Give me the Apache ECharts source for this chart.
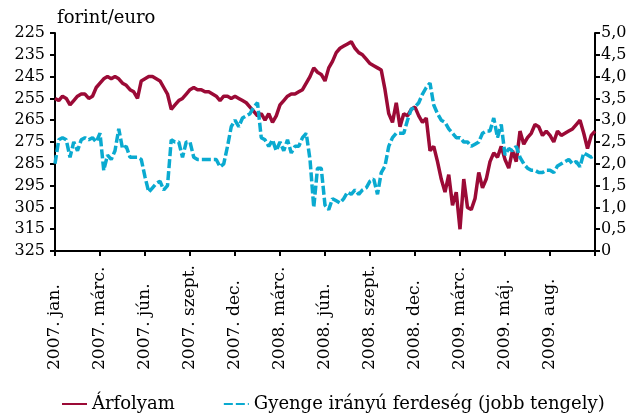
<!DOCTYPE html>
<html>
<head>
<meta charset="utf-8">
<script src="https://cdn.jsdelivr.net/npm/echarts@6/dist/echarts.min.js"></script>
<style>
  html, body { margin: 0; background: #fff; }
  #chart { width: 641px; height: 416px; }
</style>
</head>
<body>
<div id="chart"></div>
<script>
// Tick labels, one every 12 points (category axis, evenly spaced)
const tickLabels = ['2007. jan.', '2007. márc.', '2007. jún.', '2007. szept.', '2007. dec.',
    '2008. márc.', '2008. jún.', '2008. szept.', '2008. dec.',
    '2009. márc.', '2009. máj.', '2009. aug.'];

// forint/euro (left axis, inverted)
const arfolyam = [
    255, 256, 254, 255, 258, 256, 254, 253, 253, 255, 254, 250,
    248, 246, 245, 246, 245, 246, 248, 249, 251, 252, 255, 247,
    246, 245, 245, 246, 247, 250, 253, 260, 258, 256, 255, 253,
    251, 250, 251, 251, 252, 252, 253, 254, 256, 254, 254, 255,
    254, 255, 256, 257, 259, 261, 263, 262, 265, 262, 266, 263,
    258, 256, 254, 253, 253, 252, 251, 248, 245, 241, 243, 244,
    247, 241, 238, 234, 232, 231, 230, 229, 232, 234, 235, 237,
    239, 240, 241, 242, 251, 262, 266, 257, 268, 262, 263, 260,
    259, 263, 266, 264, 279, 277, 284, 292, 298, 290, 304, 298,
    315, 292, 305, 306, 301, 289, 296, 292, 284, 280, 282, 277,
    283, 287, 279, 284, 270, 276, 273, 271, 267, 268, 272, 270,
    272, 275, 270, 272, 271, 270, 269, 267, 265, 271, 278, 272,
    270
];

// weak-side skew (right axis)
const ferdeseg = [
    2.0, 2.55, 2.6, 2.55, 2.15, 2.5, 2.3, 2.55, 2.6, 2.55, 2.6, 2.5,
    2.7, 1.85, 2.2, 2.1, 2.3, 2.8, 2.35, 2.4, 2.15, 2.15, 2.15, 2.1,
    1.7, 1.35, 1.45, 1.55, 1.6, 1.4, 1.5, 2.55, 2.5, 2.5, 2.15, 2.5,
    2.5, 2.15, 2.1, 2.1, 2.1, 2.1, 2.1, 2.1, 1.93, 2.0, 2.4, 2.85,
    3.0, 2.85, 3.05, 3.1, 3.15, 3.3, 3.4, 2.6, 2.55, 2.4, 2.55, 2.3,
    2.5, 2.3, 2.55, 2.25, 2.4, 2.4, 2.6, 2.7, 2.1, 1.0, 1.9, 1.9,
    1.05, 0.95, 1.2, 1.15, 1.1, 1.2, 1.35, 1.3, 1.4, 1.3, 1.4, 1.45,
    1.6, 1.65, 1.3, 1.8, 1.95, 2.4, 2.6, 2.7, 2.7, 2.7, 3.0, 3.25,
    3.3, 3.4, 3.6, 3.75, 3.85, 3.35, 3.15, 3.0, 2.95, 2.8, 2.7, 2.6,
    2.6, 2.5, 2.5, 2.4, 2.45, 2.5, 2.7, 2.75, 2.75, 3.05, 2.6, 2.9,
    2.2, 2.35, 2.3, 2.4, 2.15, 2.0, 1.9, 1.85, 1.85, 1.8, 1.8, 1.85,
    1.85, 1.8, 1.95, 2.0, 2.05, 2.1, 2.0, 2.05, 1.93, 2.25, 2.2, 2.15,
    2.2
];

const perTick = 12;
const categories = arfolyam.map((_, i) => String(i));

const RED = '#9b0a36';
const CYAN = '#0aaad0';
const FONT = 'DejaVu Serif';
const axisLine = { show: true, lineStyle: { color: '#000', width: 2 } };

const chart = echarts.init(document.getElementById('chart'));
chart.setOption({
    animation: false,
    grid: { left: 55, right: 46, top: 33, bottom: 165 },
    graphic: [{
        type: 'text', left: 57, top: 9,
        style: { text: 'forint/euro', font: '18px "DejaVu Serif"', fill: '#000' }
    }],
    legend: {
        left: 56, top: 390,
        itemWidth: 25, itemHeight: 14, itemGap: 48,
        itemStyle: { opacity: 0 },
        textStyle: { fontFamily: FONT, fontSize: 18, color: '#000' },
        data: ['Árfolyam', 'Gyenge irányú ferdeség (jobb tengely)']
    },
    xAxis: {
        type: 'category',
        data: categories,
        boundaryGap: false,
        axisLine: axisLine,
        axisTick: {
            length: 5, interval: i => i % perTick === 0,
            lineStyle: { color: '#000', width: 2 }
        },
        axisLabel: {
            interval: i => i % perTick === 0,
            rotate: 90,
            align: 'left',
            margin: 119,
            fontFamily: FONT, fontSize: 17, color: '#000',
            formatter: (v) => tickLabels[Number(v) / perTick] || ''
        },
        splitLine: { show: false }
    },
    yAxis: [{
        type: 'value',
        inverse: true,
        min: 225, max: 325, interval: 10,
        axisLine: axisLine,
        axisTick: { show: true, length: 5, lineStyle: { color: '#000', width: 2 } },
        axisLabel: { margin: 10, fontFamily: FONT, fontSize: 16, color: '#000' },
        splitLine: { show: false }
    }, {
        type: 'value',
        min: 0, max: 5, interval: 0.5,
        axisLine: axisLine,
        axisTick: { show: true, length: 5, lineStyle: { color: '#000', width: 2 } },
        axisLabel: {
            margin: 6, fontFamily: FONT, fontSize: 16, color: '#000',
            formatter: v => v === 0 ? '0' : v.toFixed(1).replace('.', ',')
        },
        splitLine: { show: false }
    }],
    series: [{
        name: 'Árfolyam',
        type: 'line',
        yAxisIndex: 0,
        data: arfolyam,
        symbol: 'none',
        lineStyle: { color: RED, width: 3.5 },
        itemStyle: { color: RED }
    }, {
        name: 'Gyenge irányú ferdeség (jobb tengely)',
        type: 'line',
        yAxisIndex: 1,
        data: ferdeseg,
        symbol: 'none',
        lineStyle: { color: CYAN, width: 3.5, type: [9, 3] },
        itemStyle: { color: CYAN }
    }]
});
</script>
</body>
</html>
